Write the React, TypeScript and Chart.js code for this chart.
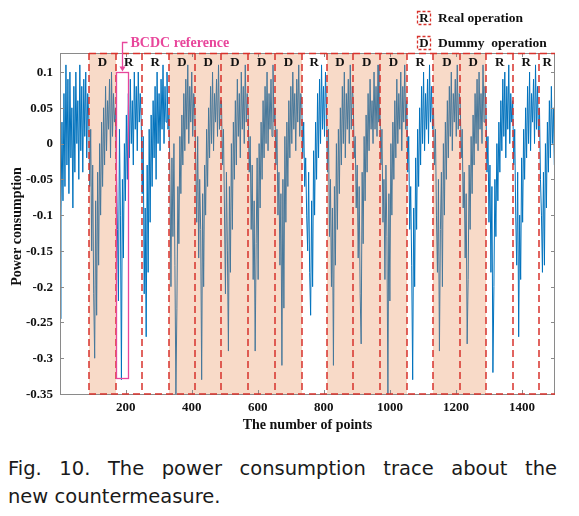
import React, { useEffect, useRef } from "react";
import { Chart, registerables } from "chart.js";

Chart.register(...registerables);

// Power trace, one reading every 3rd point, grouped by operation window
const seg00 = [-0.245, -0.1, 0.03, -0.08, 0.07, -0.06, 0.11, -0.03, 0.09, -0.07, 0.1, -0.02, 0.05, -0.09, 0.08, -0.04, 0.1, 0.0, 0.06, -0.05, 0.11, -0.01, 0.08, -0.04, 0.09, 0.01, 0.1, -0.02, 0.07];
const seg01 = [0.04, -0.06, 0.02, -0.15, -0.03, -0.21, -0.3, -0.08, -0.24, -0.04, -0.17, 0.0, -0.1, 0.03, -0.06, 0.05, -0.03, 0.08, -0.01, 0.06, 0.02, 0.09, -0.02, 0.1, 0.01, 0.07, 0.03];
const seg02 = [0.05, -0.04, -0.12, -0.22, 0.02, -0.1, -0.33, -0.05, -0.16, 0.0, -0.08, 0.04, -0.05, 0.07, -0.02, 0.09, 0.0, 0.06, -0.03, 0.1, 0.02, 0.08, -0.01, 0.1, 0.03, 0.07];
const seg03 = [0.03, -0.07, 0.01, -0.21, -0.09, -0.27, -0.03, -0.18, 0.02, -0.11, 0.04, -0.06, 0.06, -0.02, 0.08, -0.05, 0.1, 0.0, 0.07, -0.01, 0.09, 0.02, 0.11, 0.0, 0.08, 0.03, 0.1, 0.02];
const seg04 = [0.04, -0.05, -0.2, -0.02, -0.13, 0.0, -0.17, -0.35, -0.23, -0.06, -0.14, 0.01, -0.07, 0.04, -0.03, 0.07, -0.01, 0.09, 0.02, 0.11, 0.0, 0.08, 0.03, 0.1, 0.01, 0.07];
const seg05 = [0.05, -0.02, -0.11, 0.01, -0.16, -0.05, -0.12, -0.33, -0.07, -0.2, -0.03, -0.1, 0.02, -0.06, 0.05, -0.02, 0.08, 0.0, 0.1, -0.01, 0.07, 0.03, 0.09, 0.01, 0.11, 0.02, 0.06];
const seg06 = [0.06, -0.03, 0.02, -0.09, -0.21, -0.04, -0.15, -0.29, -0.06, -0.18, 0.0, -0.12, 0.03, -0.05, 0.06, -0.03, 0.09, 0.01, 0.07, -0.02, 0.1, 0.02, 0.08, 0.0, 0.11, 0.03, 0.07];
const seg07 = [0.04, -0.04, 0.01, -0.12, -0.03, -0.19, -0.08, -0.29, -0.14, -0.02, -0.19, 0.0, -0.09, 0.03, -0.05, 0.06, -0.02, 0.08, 0.0, 0.1, -0.01, 0.07, 0.02, 0.09, 0.01, 0.11, 0.03];
const seg08 = [0.05, -0.03, 0.02, -0.1, -0.04, -0.17, -0.07, -0.31, -0.05, -0.23, 0.01, -0.11, 0.03, -0.06, 0.06, -0.02, 0.08, 0.0, 0.1, 0.02, 0.07, -0.01, 0.09, 0.03, 0.11, 0.01, 0.07];
const seg09 = [0.06, -0.02, 0.03, -0.06, -0.02, -0.1, -0.15, -0.04, -0.18, -0.24, -0.08, -0.2, -0.01, -0.1, 0.03, -0.05, 0.07, -0.02, 0.09, 0.0, 0.11, 0.02, 0.08, 0.01, 0.1];
const seg10 = [0.05, -0.04, 0.02, -0.13, -0.05, -0.2, -0.09, -0.31, -0.06, -0.17, 0.0, -0.12, 0.02, -0.07, 0.05, -0.03, 0.08, 0.0, 0.1, -0.02, 0.07, 0.02, 0.09, 0.0, 0.11, 0.02, 0.08];
const seg11 = [0.06, -0.02, 0.01, -0.09, -0.03, -0.16, -0.06, -0.21, -0.28, -0.04, -0.14, 0.01, -0.08, 0.04, -0.04, 0.07, -0.01, 0.09, 0.02, 0.06, 0.0, 0.1, 0.02, 0.08, 0.01, 0.11, 0.03];
const seg12 = [0.05, -0.03, 0.02, -0.11, -0.05, -0.19, -0.03, -0.13, -0.35, -0.07, -0.22, 0.0, -0.1, 0.03, -0.05, 0.06, -0.02, 0.09, 0.0, 0.07, 0.02, 0.1, -0.01, 0.08, 0.03, 0.11, 0.02];
const seg13 = [0.06, -0.04, 0.01, -0.12, -0.06, -0.17, -0.33, -0.09, -0.2, -0.02, -0.12, 0.02, -0.06, 0.05, -0.03, 0.08, 0.0, 0.1, -0.01, 0.07, 0.02, 0.09, 0.0, 0.11, 0.03, 0.08, 0.02];
const seg14 = [0.05, -0.03, 0.02, -0.1, -0.18, -0.05, -0.29, -0.12, -0.04, -0.2, 0.0, -0.1, 0.03, -0.05, 0.06, -0.02, 0.08, 0.01, 0.1, -0.01, 0.07, 0.03, 0.09, 0.01, 0.11, 0.02, 0.07];
const seg15 = [0.06, -0.02, 0.02, -0.09, -0.04, -0.16, -0.07, -0.28, -0.19, -0.03, -0.12, 0.01, -0.07, 0.04, -0.03, 0.07, 0.0, 0.09, -0.01, 0.1, 0.02, 0.07, 0.0, 0.11, 0.03, 0.08];
const seg16 = [0.05, -0.04, 0.01, -0.11, -0.03, -0.18, -0.06, -0.32, -0.2, -0.05, -0.13, 0.0, -0.08, 0.03, -0.04, 0.06, -0.01, 0.09, 0.01, 0.1, -0.02, 0.08, 0.02, 0.11, 0.0, 0.07, 0.03];
const seg17 = [0.06, -0.03, 0.02, -0.1, -0.17, -0.04, -0.27, -0.1, -0.19, -0.02, -0.11, 0.02, -0.05, 0.05, -0.02, 0.08, 0.0, 0.1, -0.01, 0.07, 0.03, 0.09, 0.0, 0.11, 0.02, 0.08, 0.01];
const seg18 = [0.05, -0.05, -0.1, -0.18, -0.04, -0.17, 0.0, -0.09, 0.03, -0.04, 0.06, -0.02, 0.08, 0.0, 0.05, -0.03];

const powerTrace = [
  ...seg00, ...seg01, ...seg02, ...seg03, ...seg04, ...seg05, ...seg06, ...seg07, ...seg08, ...seg09,
  ...seg10, ...seg11, ...seg12, ...seg13, ...seg14, ...seg15, ...seg16, ...seg17, ...seg18,
];
const sampleStep = 3;
const firstPoint = 1;

const regionEdges = [89, 170, 248, 331, 409, 490, 571, 652, 733, 809, 889, 970, 1051, 1132, 1213, 1292, 1373, 1453, 1500];
const regionKinds = ["D", "R", "R", "D", "D", "D", "D", "D", "R", "D", "D", "D", "R", "D", "D", "R", "R", "R"];

const xTicks = [200, 400, 600, 800, 1000, 1200, 1400];
const xTickLabels = ["200", "400", "600", "800", "1000", "1200", "1400"];
const yTicks = [-0.35, -0.3, -0.25, -0.2, -0.15, -0.1, -0.05, 0, 0.05, 0.1];
const yTickLabels = ["-0.35", "-0.3", "-0.25", "-0.2", "-0.15", "-0.1", "-0.05", "0", "0.05", "0.1"];
const xRange = [1, 1500];
const yRange = [-0.35, 0.1266];

const bcdcBox = { x0: 172, x1: 207, yLow: -0.328, yHigh: 0.1 };
const bcdcLabel = "BCDC reference";
const legendItems = [
  { mark: "R", text: "Real operation" },
  { mark: "D", text: "Dummy  operation" },
];
const xTitle = "The number of points";
const yTitle = "Power consumption";
const captionLine1 = "Fig. 10. The power consumption trace about the";
const captionLine2 = "new countermeasure.";

const SERIF = "Liberation Serif";
const RED = "#d8322c";
const PINK = "#e8469b";
const SHADE = "rgba(232,132,72,0.30)";
const AXIS = "#8a8a8a";
const INK = "#111";

const overlayPlugin = {
  id: "overlay",
  afterDatasetsDraw(chart: any) {
    const { ctx, chartArea: a, scales } = chart;
    const xs = scales.x;
    const ys = scales.y;
    ctx.save();

    // shaded dummy windows (drawn over the trace)
    for (let i = 0; i < regionKinds.length; i++) {
      if (regionKinds[i] !== "D") continue;
      const x0 = Math.round(xs.getPixelForValue(regionEdges[i]));
      const x1 = Math.round(xs.getPixelForValue(regionEdges[i + 1]));
      ctx.fillStyle = SHADE;
      ctx.fillRect(x0, a.top, x1 - x0, a.bottom - a.top);
    }

    // axes box with inward ticks
    ctx.strokeStyle = AXIS;
    ctx.lineWidth = 1;
    ctx.setLineDash([]);
    ctx.strokeRect(Math.round(a.left) + 0.5, Math.round(a.top) + 0.5, Math.round(a.right - a.left) - 1, Math.round(a.bottom - a.top));
    ctx.beginPath();
    for (const v of yTicks) {
      const py = Math.round(ys.getPixelForValue(v)) + 0.5;
      ctx.moveTo(a.left, py);
      ctx.lineTo(a.left + 4, py);
      ctx.moveTo(a.right, py);
      ctx.lineTo(a.right - 4, py);
    }
    for (const v of xTicks) {
      const px = Math.round(xs.getPixelForValue(v)) + 0.5;
      ctx.moveTo(px, a.bottom);
      ctx.lineTo(px, a.bottom - 4);
      ctx.moveTo(px, a.top);
      ctx.lineTo(px, a.top + 4);
    }
    ctx.stroke();

    // red dashed window borders
    ctx.strokeStyle = RED;
    ctx.lineWidth = 1.5;
    ctx.setLineDash([7, 4]);
    ctx.beginPath();
    for (let i = 0; i < regionEdges.length - 1; i++) {
      const px = Math.round(xs.getPixelForValue(regionEdges[i]));
      ctx.moveTo(px, a.top);
      ctx.lineTo(px, a.bottom);
    }
    const startX = Math.round(xs.getPixelForValue(regionEdges[0]));
    ctx.moveTo(startX, a.top + 0.5);
    ctx.lineTo(a.right, a.top + 0.5);
    ctx.moveTo(startX, a.bottom);
    ctx.lineTo(a.right, a.bottom);
    ctx.stroke();
    ctx.setLineDash([]);

    // region labels
    ctx.fillStyle = INK;
    ctx.font = `bold 13px "${SERIF}"`;
    ctx.textAlign = "center";
    ctx.textBaseline = "middle";
    for (let i = 0; i < regionKinds.length; i++) {
      const cx = (xs.getPixelForValue(regionEdges[i]) + xs.getPixelForValue(regionEdges[i + 1])) / 2;
      ctx.fillText(regionKinds[i], cx, a.top + 10);
    }

    // BCDC reference box
    const bx0 = Math.round(xs.getPixelForValue(bcdcBox.x0)) + 0.5;
    const bx1 = Math.round(xs.getPixelForValue(bcdcBox.x1)) + 0.5;
    const by0 = Math.round(ys.getPixelForValue(bcdcBox.yHigh)) + 0.5;
    const by1 = Math.round(ys.getPixelForValue(bcdcBox.yLow)) + 0.5;
    ctx.strokeStyle = PINK;
    ctx.lineWidth = 1.3;
    ctx.strokeRect(bx0, by0, bx1 - bx0, by1 - by0);

    // bracket + arrow to the box
    const ax = Math.round((bx0 + bx1) / 2) - 0.5;
    ctx.beginPath();
    ctx.moveTo(ax + 5, 42.5);
    ctx.lineTo(ax, 42.5);
    ctx.lineTo(ax, by0 - 5);
    ctx.stroke();
    ctx.fillStyle = PINK;
    ctx.beginPath();
    ctx.moveTo(ax - 3, by0 - 6);
    ctx.lineTo(ax + 3, by0 - 6);
    ctx.lineTo(ax, by0 - 1);
    ctx.closePath();
    ctx.fill();
    ctx.font = `bold 14px "${SERIF}"`;
    ctx.textAlign = "left";
    ctx.textBaseline = "middle";
    ctx.fillText(bcdcLabel, ax + 8, 43);

    ctx.restore();
  },
  afterDraw(chart: any) {
    const { ctx, chartArea: a, scales } = chart;
    const xs = scales.x;
    const ys = scales.y;
    ctx.save();

    // tick labels
    ctx.fillStyle = INK;
    ctx.font = `bold 13px "${SERIF}"`;
    ctx.textBaseline = "middle";
    ctx.textAlign = "right";
    yTicks.forEach((v, i) => {
      ctx.fillText(yTickLabels[i], a.left - 7, ys.getPixelForValue(v) + 0.5);
    });
    ctx.textAlign = "center";
    xTicks.forEach((v, i) => {
      ctx.fillText(xTickLabels[i], xs.getPixelForValue(v), a.bottom + 14);
    });

    // legend
    legendItems.forEach((item, i) => {
      const cy = 18 + i * 25;
      ctx.fillStyle = "#fff";
      ctx.fillRect(417, cy - 7, 14, 14);
      ctx.strokeStyle = RED;
      ctx.lineWidth = 1.3;
      ctx.setLineDash([3, 2]);
      ctx.strokeRect(417.5, cy - 6.5, 13, 13);
      ctx.setLineDash([]);
      ctx.fillStyle = INK;
      ctx.font = `bold 13px "${SERIF}"`;
      ctx.textAlign = "center";
      ctx.textBaseline = "middle";
      ctx.fillText(item.mark, 424, cy + 0.5);
      ctx.font = `bold 13.5px "${SERIF}"`;
      ctx.textAlign = "left";
      ctx.fillText(item.text, 438, cy + 0.5);
    });

    // axis titles
    ctx.fillStyle = INK;
    ctx.font = `bold 14px "${SERIF}"`;
    ctx.textAlign = "center";
    ctx.textBaseline = "middle";
    ctx.fillText(xTitle, (a.left + a.right) / 2, 425);
    ctx.translate(17, (a.top + a.bottom) / 2 + 3);
    ctx.rotate(-Math.PI / 2);
    ctx.fillText(yTitle, 0, 0);
    ctx.restore();
  },
};

export default function App() {
  const canvasRef = useRef<HTMLCanvasElement | null>(null);

  useEffect(() => {
    const canvas = canvasRef.current;
    if (!canvas) return;
    const points = powerTrace.map((v, i) => ({ x: firstPoint + i * sampleStep, y: v }));
    const chart = new Chart(canvas, {
      type: "line",
      data: {
        datasets: [
          {
            data: points,
            borderColor: "#0072BD",
            borderWidth: 1,
            pointRadius: 0,
            tension: 0,
            fill: false,
          },
        ],
      },
      options: {
        animation: false,
        responsive: false,
        devicePixelRatio: 1,
        layout: { padding: { left: 0, right: 24, top: 53, bottom: 0 } },
        plugins: { legend: { display: false }, tooltip: { enabled: false } },
        events: [],
        scales: {
          x: {
            type: "linear",
            min: xRange[0],
            max: xRange[1],
            grid: { display: false, drawTicks: false },
            border: { display: false },
            ticks: { display: false },
            afterFit: (scale: any) => {
              scale.height = 46;
            },
          },
          y: {
            type: "linear",
            min: yRange[0],
            max: yRange[1],
            grid: { display: false, drawTicks: false },
            border: { display: false },
            ticks: { display: false },
            afterFit: (scale: any) => {
              scale.width = 60;
            },
          },
        },
      },
      plugins: [overlayPlugin],
    } as any);
    return () => chart.destroy();
  }, []);

  return (
    <div style={{ position: "absolute", left: 0, top: 0, width: 579, height: 516, background: "#fff" }}>
      <canvas ref={canvasRef} width={579} height={440} style={{ display: "block", width: 579, height: 440 }} />
      <div
        style={{
          position: "absolute",
          left: 8,
          top: 455,
          width: 549,
          fontFamily: "'DejaVu Sans', 'Noto Sans', sans-serif",
          fontSize: "19.5px",
          lineHeight: "28px",
          color: "#1a1a1a",
        }}
      >
        <div style={{ textAlign: "justify", textAlignLast: "justify" as any }}>{captionLine1}</div>
        <div style={{ textAlign: "left" }}>{captionLine2}</div>
      </div>
    </div>
  );
}
